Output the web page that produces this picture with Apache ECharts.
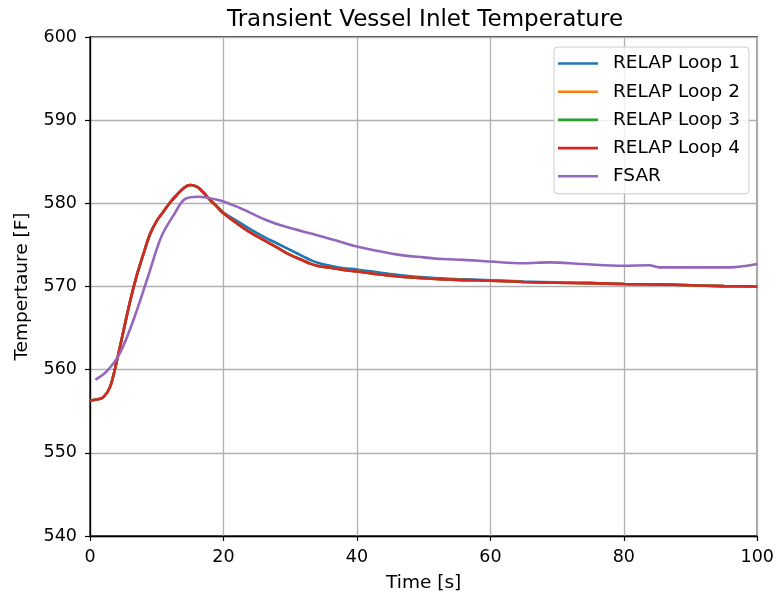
<!DOCTYPE html>
<html>
<head>
<meta charset="utf-8">
<script src="https://cdn.jsdelivr.net/npm/echarts@6/dist/echarts.min.js"></script>
<style>
  html, body { margin: 0; padding: 0; background: #fff; }
  #chart { width: 777px; height: 598px; }
</style>
</head>
<body>
<div id="chart"></div>
<script>
// Time base shared by the four RELAP loops [s]
const relapTime = [0, 1, 2, 3, 4, 5, 6, 7, 8, 9, 10, 11, 12, 13, 14, 15, 16, 17, 18, 19, 20,
  22, 24, 26, 28, 30, 32, 33, 34, 36, 38, 40, 45, 50, 55, 60, 65, 70, 75, 80, 85, 90, 95, 100];

// Vessel inlet temperature per loop [F]
const loop1 = [556.3, 556.4, 556.7, 557.9, 561.0, 564.6, 568.2, 571.3, 573.9, 576.3, 577.9, 579.0, 580.1, 581.0, 581.8, 582.2, 582.0, 581.3, 580.4, 579.7, 578.9,
  577.9, 576.9, 576.0, 575.2, 574.4, 573.6, 573.2, 572.9, 572.5, 572.2, 572.05, 571.5, 571.1, 570.9, 570.75, 570.6, 570.5, 570.4, 570.3, 570.25, 570.15, 570.05, 570.0];
const loop2 = [556.3, 556.4, 556.7, 557.9, 561.0, 564.6, 568.2, 571.3, 573.9, 576.3, 577.9, 579.0, 580.1, 581.0, 581.8, 582.2, 582.0, 581.3, 580.4, 579.6, 578.8,
  577.6, 576.5, 575.6, 574.7, 573.8, 573.1, 572.75, 572.5, 572.25, 572.0, 571.8, 571.3, 571.0, 570.8, 570.7, 570.55, 570.45, 570.4, 570.3, 570.25, 570.15, 570.05, 570.0];
const loop3 = [556.3, 556.4, 556.7, 557.9, 561.0, 564.6, 568.2, 571.3, 573.9, 576.3, 577.9, 579.0, 580.1, 581.0, 581.8, 582.2, 582.0, 581.3, 580.4, 579.6, 578.8,
  577.6, 576.5, 575.6, 574.7, 573.8, 573.1, 572.75, 572.5, 572.25, 572.0, 571.8, 571.3, 571.0, 570.8, 570.7, 570.55, 570.45, 570.4, 570.3, 570.25, 570.15, 570.05, 570.0];
const loop4 = [556.3, 556.4, 556.7, 557.9, 561.0, 564.6, 568.2, 571.3, 573.9, 576.3, 577.9, 579.0, 580.1, 581.0, 581.8, 582.2, 582.0, 581.3, 580.4, 579.6, 578.8,
  577.6, 576.5, 575.6, 574.7, 573.8, 573.1, 572.75, 572.5, 572.25, 572.0, 571.8, 571.3, 571.0, 570.8, 570.7, 570.55, 570.45, 570.4, 570.3, 570.25, 570.15, 570.05, 570.0];

// FSAR reference curve
const fsarTime = [0.8, 2.5, 4.5, 6.7, 8.7, 10.7, 12.7, 14.2, 16.2, 19.2, 22, 26.4, 29.2, 33.9, 37, 40, 43, 46.4, 50, 52.9,
  56, 60, 64.9, 68.9, 73.8, 80, 83.8, 85.3, 90, 95.8, 100];
const fsar = [558.8, 559.8, 562.0, 566.4, 571.2, 576.0, 578.8, 580.5, 580.8, 580.4, 579.6, 578.0, 577.2, 576.2, 575.5, 574.8, 574.3, 573.8, 573.5, 573.3,
  573.2, 573.0, 572.8, 572.9, 572.7, 572.5, 572.55, 572.3, 572.3, 572.3, 572.7];

const seriesNames = ['RELAP Loop 1', 'RELAP Loop 2', 'RELAP Loop 3', 'RELAP Loop 4', 'FSAR'];
const seriesColors = ['#1f77b4', '#ff7f0e', '#2ca02c', '#d62728', '#9467bd'];

const xTicks = { min: 0, max: 100, interval: 20 };
const yTicks = { min: 540, max: 600, interval: 10 };

const FONT = 'DejaVu Sans';

function pairs(ts, vs) { return ts.map((t, i) => [t, vs[i]]); }

const seriesData = [
  pairs(relapTime, loop1),
  pairs(relapTime, loop2),
  pairs(relapTime, loop3),
  pairs(relapTime, loop4),
  pairs(fsarTime, fsar)
];

const chart = echarts.init(document.getElementById('chart'), null, { renderer: 'canvas' });

chart.setOption({
  animation: false,
  backgroundColor: '#fff',
  title: {
    text: 'Transient Vessel Inlet Temperature',
    left: 420,
    top: 4,
    textAlign: 'center',
    textStyle: { fontFamily: FONT, fontSize: 23, fontWeight: 'normal', color: '#000' }
  },
  grid: {
    left: 90, right: 19, top: 37, bottom: 62,
    show: true, borderColor: '#000', borderWidth: 1.3, backgroundColor: 'transparent'
  },
  legend: {
    data: seriesNames,
    orient: 'vertical',
    left: 554,
    top: 47,
    padding: [6, 9, 7, 4],
    icon: 'rect',
    itemWidth: 40,
    itemHeight: 2.6,
    itemGap: 7.2,
    backgroundColor: 'rgba(255,255,255,0.8)',
    borderColor: '#cccccc',
    borderWidth: 1,
    borderRadius: 4,
    textStyle: { fontFamily: FONT, fontSize: 18.5, color: '#000', lineHeight: 21, padding: [0, 0, 0, 10] }
  },
  xAxis: {
    type: 'value',
    min: xTicks.min, max: xTicks.max, interval: xTicks.interval,
    name: 'Time [s]',
    nameLocation: 'middle',
    nameGap: 38,
    nameTextStyle: { fontFamily: FONT, fontSize: 18.5, color: '#000' },
    axisLine: { show: true, lineStyle: { color: '#000', width: 1.3 } },
    axisTick: { show: true, inside: false, length: 5, lineStyle: { color: '#000', width: 1.2 } },
    axisLabel: { margin: 12, fontFamily: FONT, fontSize: 17.5, color: '#000' },
    splitLine: { show: true, lineStyle: { color: '#b0b0b0', width: 1.3 } }
  },
  yAxis: {
    type: 'value',
    min: yTicks.min, max: yTicks.max, interval: yTicks.interval,
    name: 'Tempertaure [F]',
    nameLocation: 'middle',
    nameGap: 58,
    nameTextStyle: { fontFamily: FONT, fontSize: 18.5, color: '#000' },
    axisLine: { show: true, lineStyle: { color: '#000', width: 1.3 } },
    axisTick: { show: true, inside: false, length: 5, lineStyle: { color: '#000', width: 1.2 } },
    axisLabel: { margin: 13, fontFamily: FONT, fontSize: 17.5, color: '#000' },
    splitLine: { show: true, lineStyle: { color: '#b0b0b0', width: 1.3 } }
  },
  series: seriesNames.map((name, i) => ({
    name: name,
    type: 'line',
    data: seriesData[i],
    showSymbol: false,
    symbol: 'none',
    smooth: 0.35,
    color: seriesColors[i],
    lineStyle: { width: 2.6, color: seriesColors[i] },
    z: 2 + i
  }))
});
</script>
</body>
</html>
